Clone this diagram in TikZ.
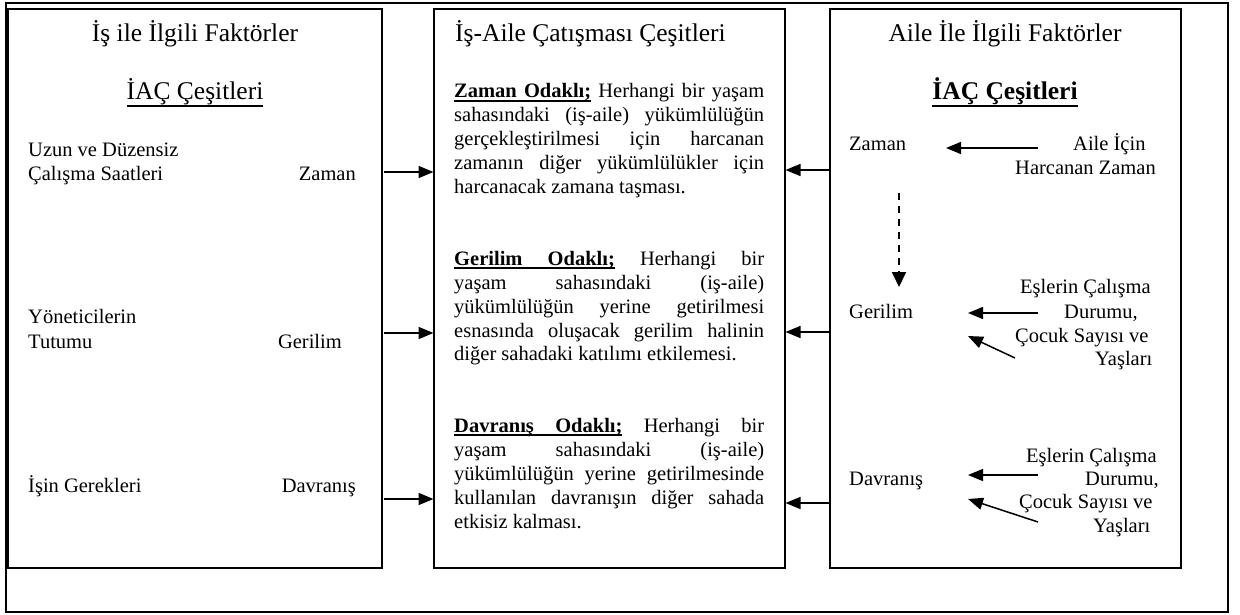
\documentclass[tikz,border=0pt]{standalone}
\usepackage{fontspec}
\setmainfont{Liberation Serif}
\usetikzlibrary{arrows.meta}

% underlined word, and an underlined interword space that still stretches
\newcommand\ulw[1]{\setbox0\hbox{#1}\rlap{\rule[-3.6pt]{\wd0}{1.3pt}}\box0}
\newcommand\uls{\leaders\hrule height -2.3pt depth 3.6pt\hskip\fontdimen2\font plus\fontdimen3\font minus\fontdimen4\font}
% underline for the section headings
\newcommand\hul[1]{\setbox0\hbox{#1}\rlap{\rule[-7pt]{\wd0}{1.6pt}}\box0}

\tikzset{
  panel/.style={draw, line width=1.5pt, inner sep=0pt, outer sep=0pt, anchor=north west},
  head/.style={font=\fontsize{25.5}{30}\selectfont, inner sep=0pt, anchor=base},
  body/.style={font=\fontsize{20.5}{24}\selectfont, inner sep=0pt},
  lbl/.style={body, anchor=base west},
  lble/.style={body, anchor=base east},
  para/.style={body, anchor=base west, text width=310pt, align=justify},
  arr/.style={line width=1.5pt, -{Triangle[length=15pt,width=12pt]}},
  dasharr/.style={line width=1.8pt, dash pattern=on 7pt off 6pt, -{Triangle[length=15pt,width=14pt]}},
}

\begin{document}
\begin{tikzpicture}[x=1pt,y=-1pt]
\useasboundingbox (0,0) rectangle (1240,615);
\fill[white] (0,0) rectangle (1240,615);

% outer frame
\draw[line width=2.4pt] (6,3) rectangle (1228,612);

% the three panels
\node[panel, minimum width=374pt, minimum height=559pt] (L) at (8,9) {};
\node[panel, line width=2pt, minimum width=351pt, minimum height=559pt] (M) at (434,9) {};
\node[panel, minimum width=351pt, minimum height=559pt] (R) at (830,9) {};

% left panel: work related factors
\node[head] (Lt) at (195,42) {İş ile İlgili Faktörler};
\node[head] (Lh) at (195,100) {\hul{İAÇ Çeşitleri}};
\node[lbl] (l1a) at (28,157) {Uzun ve Düzensiz};
\node[lbl] (l1b) at (28,180) {Çalışma Saatleri};
\node[lble] (l1c) at (356,180) {Zaman};
\node[lbl] (l2a) at (28,323) {Yöneticilerin};
\node[lbl] (l2b) at (28,348) {Tutumu};
\node[lble] (l2c) at (342,348) {Gerilim};
\node[lbl] (l3a) at (28,492) {İşin Gerekleri};
\node[lble] (l3c) at (356,492) {Davranış};

% middle panel: conflict types
\node[head, anchor=base west] (Mt) at (455,42) {İş-Aile Çatışması Çeşitleri};
\node[para] (p1) at (454,98) {\tolerance=10000
  \textbf{\ulw{Zaman}\uls\ulw{Odaklı;}} Herhangi bir yaşam\linebreak
  sahasındaki (iş-aile) yükümlülüğün\linebreak
  gerçekleştirilmesi için harcanan\linebreak
  zamanın diğer yükümlülükler için\linebreak
  harcanacak zamana taşması.};
\node[para] (p2) at (454,265) {\tolerance=10000
  \textbf{\ulw{Gerilim}\uls\ulw{Odaklı;}} Herhangi bir\linebreak
  yaşam sahasındaki (iş-aile)\linebreak
  yükümlülüğün yerine getirilmesi\linebreak
  esnasında oluşacak gerilim halinin\linebreak
  diğer sahadaki katılımı etkilemesi.};
\node[para] (p3) at (454,432) {\tolerance=10000
  \textbf{\ulw{Davranış}\uls\ulw{Odaklı;}} Herhangi bir\linebreak
  yaşam sahasındaki (iş-aile)\linebreak
  yükümlülüğün yerine getirilmesinde\linebreak
  kullanılan davranışın diğer sahada\linebreak
  etkisiz kalması.};

% right panel: family related factors
\node[head] (Rt) at (1005,42) {Aile İle İlgili Faktörler};
\node[head, font=\fontsize{25.5}{30}\selectfont\bfseries] (Rh) at (1005,100) {\hul{İAÇ Çeşitleri}};
\node[lbl] (rz) at (849,150) {Zaman};
\node[lbl] (rz1) at (1073,150) {Aile İçin};
\node[lbl] (rz2) at (1015,175) {Harcanan Zaman};
\node[lbl] (rg) at (849,318) {Gerilim};
\node[lbl] (rg1) at (1020,293) {Eşlerin Çalışma};
\node[lbl] (rg2) at (1064,318) {Durumu,};
\node[lbl] (rg3) at (1015,342) {Çocuk Sayısı ve};
\node[lbl] (rg4) at (1095,365) {Yaşları};
\node[lbl] (rd) at (849,485) {Davranış};
\node[lbl] (rd1) at (1026,462) {Eşlerin Çalışma};
\node[lbl] (rd2) at (1085,485) {Durumu,};
\node[lbl] (rd3) at (1019,508) {Çocuk Sayısı ve};
\node[lbl] (rd4) at (1093,532) {Yaşları};

% rows of the connectors between panels
\coordinate (yz) at (0,172);
\coordinate (yg) at (0,333);
\coordinate (yd) at (0,499);
\coordinate (wz) at (0,170);
\coordinate (wg) at (0,332);
\coordinate (wd) at (0,503);

\draw[arr] ([xshift=2pt]L.east |- yz) -- ([xshift=-0.5pt]M.west |- yz);
\draw[arr] ([xshift=2pt]L.east |- yg) -- ([xshift=-0.5pt]M.west |- yg);
\draw[arr] ([xshift=2pt]L.east |- yd) -- ([xshift=-0.5pt]M.west |- yd);

\draw[arr] (R.west |- wz) -- ([xshift=0.5pt]M.east |- wz);
\draw[arr] (R.west |- wg) -- ([xshift=0.5pt]M.east |- wg);
\draw[arr] (R.west |- wd) -- ([xshift=0.5pt]M.east |- wd);

% arrows inside the right panel
\coordinate (az1) at (1038,148);
\coordinate (az2) at (946,148);
\coordinate (ag1) at (1038,313);
\coordinate (ag2) at (968,313);
\coordinate (ag3) at (1015,358);
\coordinate (ag4) at (968,336);
\coordinate (ad1) at (1038,475);
\coordinate (ad2) at (968,475);
\coordinate (ad3) at (1038,522);
\coordinate (ad4) at (968,499);
\coordinate (zd1) at (899,193);
\coordinate (zd2) at (899,287);

\draw[arr] (az1) -- (az2);
\draw[arr] (ag1) -- (ag2);
\draw[arr] (ag3) -- (ag4);
\draw[arr] (ad1) -- (ad2);
\draw[arr] (ad3) -- (ad4);
\draw[dasharr] (zd1) -- (zd2);
\end{tikzpicture}
\end{document}
